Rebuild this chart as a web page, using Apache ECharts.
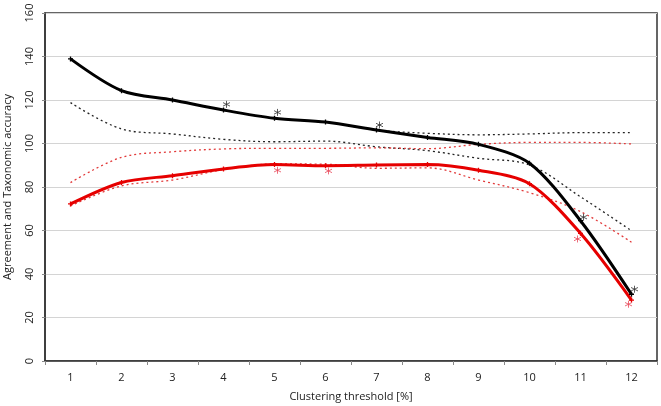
<!DOCTYPE html>
<html>
<head>
<meta charset="utf-8">
<script src="https://cdn.jsdelivr.net/npm/echarts@6/dist/echarts.min.js"></script>
<style>html,body{margin:0;padding:0;background:#fff}#c{width:661px;height:406px}</style>
</head>
<body>
<div id="c"></div>
<script>
const categories = ['1','2','3','4','5','6','7','8','9','10','11','12'];
const yTicks = [0, 20, 40, 60, 80, 100, 120, 140, 160];
const blackMean  = [138.9, 124.3, 120.0, 115.4, 111.6, 109.9, 106.2, 102.8, 99.6, 90.9, 64.5, 30.7];
const blackUpper = [139.0, 124.3, 120.0, 115.4, 111.6, 109.9, 106.2, 104.7, 104.0, 104.4, 105.0, 105.0];
const blackLower = [118.8, 106.7, 104.4, 101.9, 100.8, 101.1, 98.5, 96.7, 93.2, 90.1, 75.5, 59.9];
const redMean    = [72.2, 82.1, 85.2, 88.3, 90.3, 89.8, 90.1, 90.3, 87.7, 81.5, 58.7, 28.0];
const redUpper   = [82.0, 93.6, 96.2, 97.5, 97.8, 97.8, 98.0, 97.6, 99.6, 100.5, 100.5, 99.8];
const redLower   = [71.3, 80.5, 83.2, 88.0, 90.6, 90.5, 88.6, 88.8, 83.2, 77.4, 68.7, 54.6];
const blackStars = [null, null, null, 118.0, 114.3, null, 108.5, null, null, null, 66.1, 33.0];
const redStars   = [null, null, null, null, 87.7, 87.4, null, null, null, null, 56.1, 26.1];

const FONT = 'Open Sans';
const star = 'path://M5 0L5 10M0.7 2.5L9.3 7.5M0.7 7.5L9.3 2.5';
const cross = 'path://M5 0L5 10M0 5L10 5';

function dotted(name, data, color) {
  return {
    name, type: 'line', data, smooth: 0.35, symbol: 'none', z: 2,
    lineStyle: { color, width: 1.3, type: [2, 3] }
  };
}
function solid(name, data, color) {
  return {
    name, type: 'line', data, smooth: 0.3, z: 4,
    symbol: cross, symbolSize: 5, showSymbol: true,
    itemStyle: { color: color, borderColor: color, borderWidth: 1.3 },
    lineStyle: { color, width: 3 }
  };
}
function stars(name, data, color, offsets) {
  return {
    name, type: 'scatter', z: 5,
    data: data.map((v, i) => v == null ? null : { value: v, symbolOffset: [offsets[i], 0] }),
    symbol: star, symbolSize: 7,
    itemStyle: { color: 'none', borderColor: color, borderWidth: 1 }
  };
}
const blackOff = categories.map(() => 3);
const redOff = categories.map((c, i) => i >= 10 ? -3 : 3);

const chart = echarts.init(document.getElementById('c'), null, { renderer: 'canvas' });
chart.setOption({
  animation: false,
  backgroundColor: '#fff',
  grid: { left: 45, right: 4, top: 13, bottom: 45, containLabel: false, outerBoundsMode: 'none',
          show: true, borderColor: '#333', borderWidth: 1.5, backgroundColor: 'transparent' },
  xAxis: {
    type: 'category', data: categories, boundaryGap: true,
    name: 'Clustering threshold [%]', nameLocation: 'middle', nameGap: 30,
    nameTextStyle: { fontFamily: FONT, fontSize: 11, color: '#222' },
    axisLine: { lineStyle: { color: '#333', width: 1.5 } },
    axisTick: { show: true, length: 4, lineStyle: { color: '#888' } },
    axisLabel: { fontFamily: FONT, fontSize: 11, color: '#222', margin: 11 },
    splitLine: { show: false }
  },
  yAxis: {
    type: 'value', min: yTicks[0], max: yTicks[yTicks.length - 1], interval: yTicks[1] - yTicks[0],
    name: 'Agreement and Taxonomic accuracy', nameLocation: 'middle', nameGap: 32,
    nameTextStyle: { fontFamily: FONT, fontSize: 11, color: '#222' },
    axisLine: { show: true, lineStyle: { color: '#333', width: 1.5 } },
    axisTick: { show: true, length: 3, lineStyle: { color: '#888' } },
    axisLabel: { fontFamily: FONT, fontSize: 11, color: '#222', rotate: 90, margin: 10 },
    splitLine: { show: true, lineStyle: { color: '#d4d4d4', width: 1.2 } }
  },
  series: [
    dotted('Black upper', blackUpper, '#222'),
    dotted('Black lower', blackLower, '#222'),
    dotted('Red upper', redUpper, '#e23a3a'),
    dotted('Red lower', redLower, '#e23a3a'),
    solid('Black', blackMean, '#000'),
    solid('Red', redMean, '#e60000'),
    stars('Black *', blackStars, '#333', blackOff),
    stars('Red *', redStars, '#e8485a', redOff)
  ]
});
</script>
</body>
</html>
